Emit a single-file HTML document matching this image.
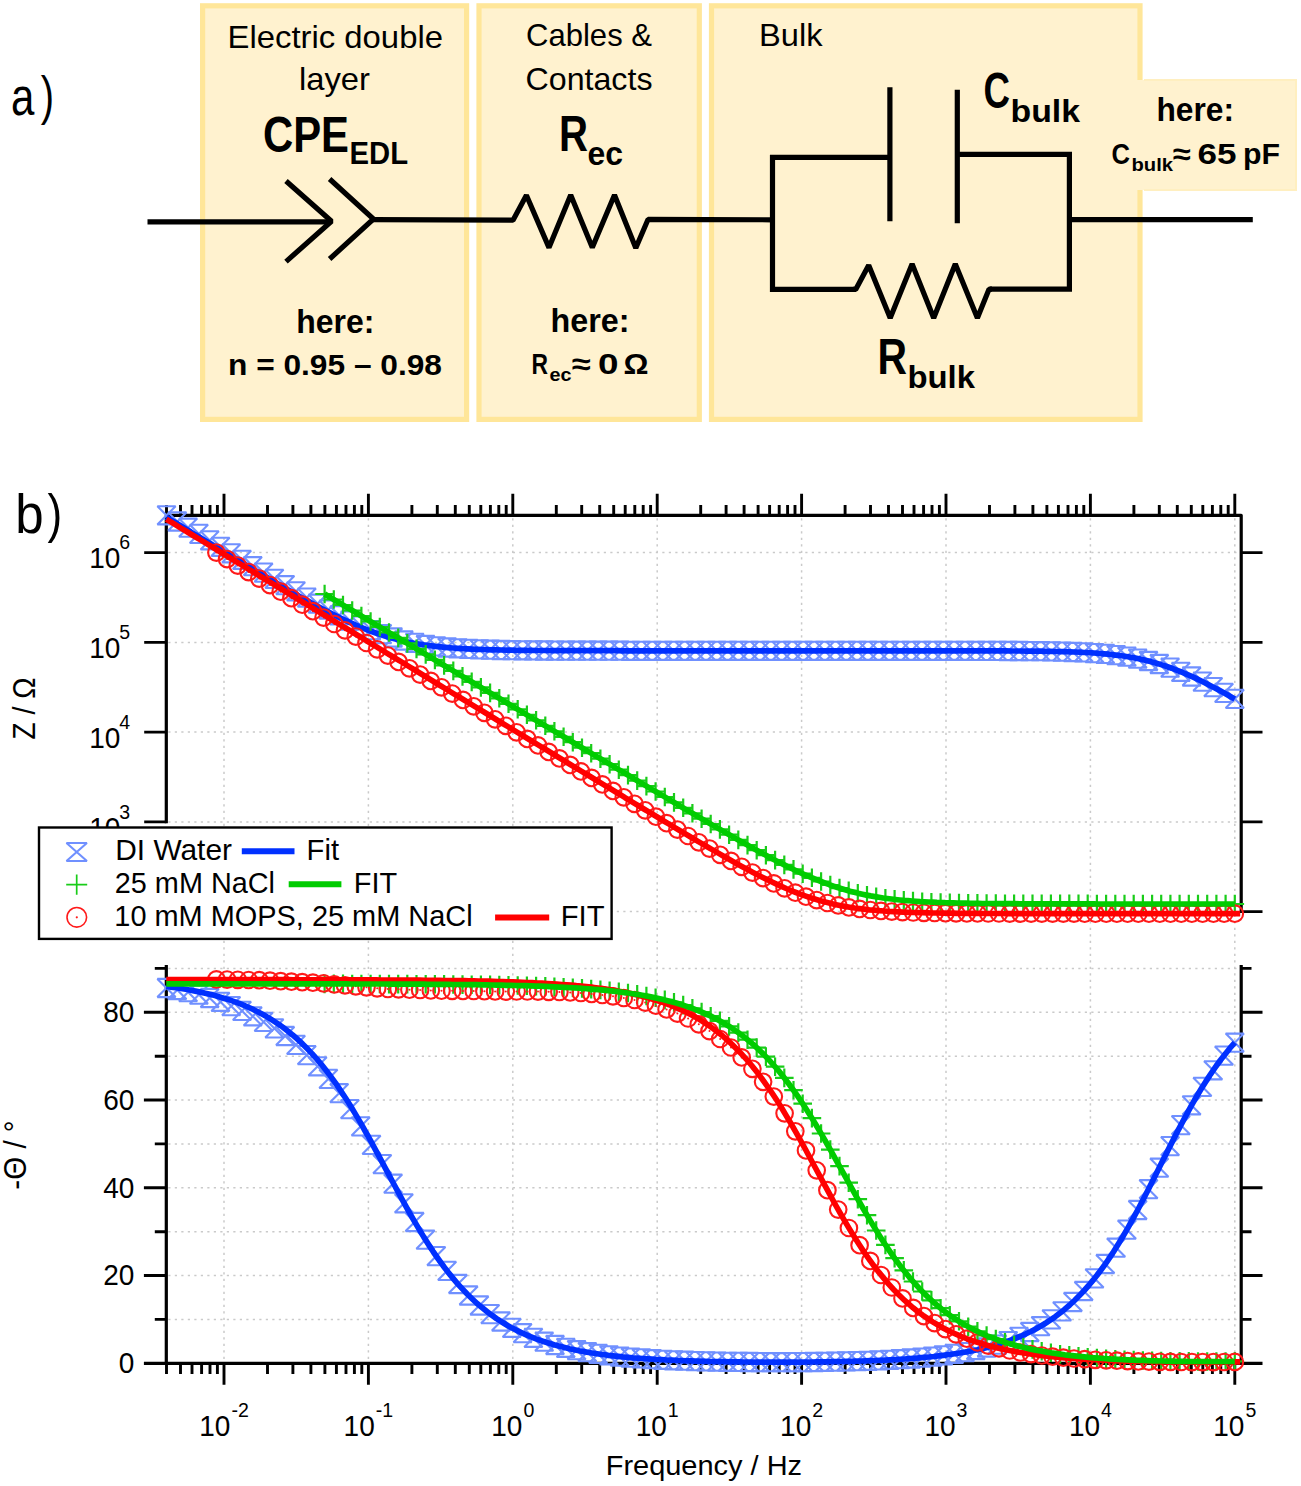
<!DOCTYPE html>
<html lang="en"><head><meta charset="utf-8"><title>Equivalent circuit and impedance spectra</title>
<style>html,body{margin:0;padding:0;background:#fff}svg{display:block}text{font-family:"Liberation Sans",sans-serif;fill:#000}</style>
</head><body>
<svg width="1301" height="1486" viewBox="0 0 1301 1486">
<rect width="1301" height="1486" fill="#fff"/>
<rect x="202.6" y="5.8" width="264" height="413.6" fill="#FFF2CF" stroke="#FFE699" stroke-width="5.2"/>
<rect x="479" y="5.8" width="220.3" height="413.6" fill="#FFF2CF" stroke="#FFE699" stroke-width="5.2"/>
<rect x="711.5" y="5.8" width="428.5" height="413.6" fill="#FFF2CF" stroke="#FFE699" stroke-width="5.2"/>
<rect x="1100" y="80" width="196" height="110" fill="#FFF2CF"/>
<path d="M1144,80 H1296 V190 H1144" fill="none" stroke="#FFEFC0" stroke-width="2"/>
<g fill="none" stroke="#000" stroke-width="5.2" stroke-linejoin="bevel" stroke-linecap="butt">
<path d="M147.5,221.8 H331"/>
<path d="M286,181 L331.5,221.3 L286,261.6"/>
<path d="M329.6,179 L373.5,219 L329.6,259" stroke-linejoin="miter"/>
<path d="M373,219.6 L513,220.2 L526.4,195.3 L549,247.6 L570.7,195 L592.3,247.6 L614.5,195 L635.8,248 L648,219.4 L772.5,219.8"/>
<path d="M889.9,157.4 H772.5 V289.4 H856" stroke-linejoin="miter"/>
<path d="M853,289.4 H855.7 L868.7,265.2 L890.2,318 L912.1,264 L933.7,318 L955.3,264 L977.4,318 L989,289.2 H992"/>
<path d="M990,289.2 H1069.4 V154.4 H957.3" stroke-linejoin="miter"/>
<path d="M889.9,87.3 V221.3 M957.3,89.8 V223.3"/>
<path d="M1069.4,219.6 H1252.8"/>
</g>
<text x="11" y="115" font-size="54" textLength="23.4" lengthAdjust="spacingAndGlyphs">a</text>
<text x="40.8" y="113.6" font-size="54" textLength="13.3" lengthAdjust="spacingAndGlyphs">)</text>
<text x="15.2" y="532.7" font-size="55" textLength="28.4" lengthAdjust="spacingAndGlyphs">b</text>
<text x="47.6" y="531.5" font-size="53" textLength="14.7" lengthAdjust="spacingAndGlyphs">)</text>
<text x="227.5" y="47.9" font-size="30.9" textLength="215.5" lengthAdjust="spacingAndGlyphs">Electric double</text>
<text x="299" y="90.1" font-size="30.9" textLength="71" lengthAdjust="spacingAndGlyphs">layer</text>
<text x="263" y="152" font-size="50" textLength="86" lengthAdjust="spacingAndGlyphs" font-weight="bold">CPE</text>
<text x="349.5" y="164.1" font-size="32" textLength="58.5" lengthAdjust="spacingAndGlyphs" font-weight="bold">EDL</text>
<text x="296.3" y="332.9" font-size="33.5" textLength="78.2" lengthAdjust="spacingAndGlyphs" font-weight="bold">here:</text>
<text x="228" y="374.6" font-size="29" textLength="214" lengthAdjust="spacingAndGlyphs" font-weight="bold">n = 0.95 – 0.98</text>
<text x="526" y="46.2" font-size="30.9" textLength="126" lengthAdjust="spacingAndGlyphs">Cables &amp;</text>
<text x="525.5" y="89.8" font-size="30.9" textLength="127" lengthAdjust="spacingAndGlyphs">Contacts</text>
<text x="559" y="150.5" font-size="50" textLength="29" lengthAdjust="spacingAndGlyphs" font-weight="bold">R</text>
<text x="587.5" y="165" font-size="32.5" textLength="35.5" lengthAdjust="spacingAndGlyphs" font-weight="bold">ec</text>
<text x="550.5" y="332" font-size="33.5" textLength="79" lengthAdjust="spacingAndGlyphs" font-weight="bold">here:</text>
<text x="531.5" y="374.3" font-size="29" textLength="16.5" lengthAdjust="spacingAndGlyphs" font-weight="bold">R</text>
<text x="549.5" y="381.2" font-size="18.5" textLength="22" lengthAdjust="spacingAndGlyphs" font-weight="bold">ec</text>
<text x="572" y="374.3" font-size="29" textLength="19" lengthAdjust="spacingAndGlyphs" font-weight="bold">≈</text>
<text x="598" y="374.3" font-size="29" textLength="20.5" lengthAdjust="spacingAndGlyphs" font-weight="bold">0</text>
<text x="623.5" y="374.3" font-size="29" textLength="25" lengthAdjust="spacingAndGlyphs" font-weight="bold">Ω</text>
<text x="759" y="46.2" font-size="30.9" textLength="63.5" lengthAdjust="spacingAndGlyphs">Bulk</text>
<text x="983.5" y="108.2" font-size="50" textLength="26.5" lengthAdjust="spacingAndGlyphs" font-weight="bold">C</text>
<text x="1010.5" y="121.7" font-size="32" textLength="69.5" lengthAdjust="spacingAndGlyphs" font-weight="bold">bulk</text>
<text x="1156.5" y="121" font-size="33.5" textLength="77.5" lengthAdjust="spacingAndGlyphs" font-weight="bold">here:</text>
<text x="1111.5" y="163.5" font-size="29" textLength="18.5" lengthAdjust="spacingAndGlyphs" font-weight="bold">C</text>
<text x="1131.5" y="170.9" font-size="18.5" textLength="41.5" lengthAdjust="spacingAndGlyphs" font-weight="bold">bulk</text>
<text x="1173" y="163.5" font-size="29" textLength="18" lengthAdjust="spacingAndGlyphs" font-weight="bold">≈</text>
<text x="1197.5" y="163.5" font-size="29" textLength="39" lengthAdjust="spacingAndGlyphs" font-weight="bold">65</text>
<text x="1243" y="163.5" font-size="29" textLength="37" lengthAdjust="spacingAndGlyphs" font-weight="bold">pF</text>
<text x="877.5" y="374.3" font-size="50" textLength="29.5" lengthAdjust="spacingAndGlyphs" font-weight="bold">R</text>
<text x="907.5" y="388.2" font-size="32" textLength="67.5" lengthAdjust="spacingAndGlyphs" font-weight="bold">bulk</text>
<g fill="none" stroke="#cacaca" stroke-width="1.5" stroke-dasharray="2.2 4.3">
<path d="M224,518.3 V1363.3"/>
<path d="M368.4,518.3 V1363.3"/>
<path d="M512.8,518.3 V1363.3"/>
<path d="M657.2,518.3 V1363.3"/>
<path d="M801.6,518.3 V1363.3"/>
<path d="M946,518.3 V1363.3"/>
<path d="M1090.4,518.3 V1363.3"/>
<path d="M1234.8,518.3 V1363.3"/>
<path d="M168.3,552.6 H1239.2"/>
<path d="M168.3,642.4 H1239.2"/>
<path d="M168.3,732.1 H1239.2"/>
<path d="M168.3,821.9 H1239.2"/>
<path d="M168.3,911.6 H1239.2"/>
<path d="M168.3,1319.4 H1239.2"/>
<path d="M168.3,1275.5 H1239.2"/>
<path d="M168.3,1231.7 H1239.2"/>
<path d="M168.3,1187.8 H1239.2"/>
<path d="M168.3,1143.9 H1239.2"/>
<path d="M168.3,1100 H1239.2"/>
<path d="M168.3,1056.2 H1239.2"/>
<path d="M168.3,1012.3 H1239.2"/>
<path d="M168.3,968.4 H1239.2"/>
</g>
<g fill="none" stroke="#000" stroke-linecap="butt">
<path d="M166.3,823.2 V515.3 H1241.2 V913" stroke-width="3.2" stroke-linejoin="round"/>
<path d="M166.3,1363.3 V965 M1241.2,1363.3 V965" stroke-width="3.2"/>
<path d="M143.9,1363.3 H1262.5" stroke-width="3.2"/>
<path d="M166.5,515.3 V505 M166.5,1363.3 V1374.1 M180.5,515.3 V505 M180.5,1363.3 V1374.1 M192,515.3 V505 M192,1363.3 V1374.1 M201.6,515.3 V505 M201.6,1363.3 V1374.1 M210,515.3 V505 M210,1363.3 V1374.1 M217.4,515.3 V505 M217.4,1363.3 V1374.1 M224,515.3 V493.8 M224,1363.3 V1384.8 M267.5,515.3 V505 M267.5,1363.3 V1374.1 M292.9,515.3 V505 M292.9,1363.3 V1374.1 M310.9,515.3 V505 M310.9,1363.3 V1374.1 M324.9,515.3 V505 M324.9,1363.3 V1374.1 M336.4,515.3 V505 M336.4,1363.3 V1374.1 M346,515.3 V505 M346,1363.3 V1374.1 M354.4,515.3 V505 M354.4,1363.3 V1374.1 M361.8,515.3 V505 M361.8,1363.3 V1374.1 M368.4,515.3 V493.8 M368.4,1363.3 V1384.8 M411.9,515.3 V505 M411.9,1363.3 V1374.1 M437.3,515.3 V505 M437.3,1363.3 V1374.1 M455.3,515.3 V505 M455.3,1363.3 V1374.1 M469.3,515.3 V505 M469.3,1363.3 V1374.1 M480.8,515.3 V505 M480.8,1363.3 V1374.1 M490.4,515.3 V505 M490.4,1363.3 V1374.1 M498.8,515.3 V505 M498.8,1363.3 V1374.1 M506.2,515.3 V505 M506.2,1363.3 V1374.1 M512.8,515.3 V493.8 M512.8,1363.3 V1384.8 M556.3,515.3 V505 M556.3,1363.3 V1374.1 M581.7,515.3 V505 M581.7,1363.3 V1374.1 M599.7,515.3 V505 M599.7,1363.3 V1374.1 M613.7,515.3 V505 M613.7,1363.3 V1374.1 M625.2,515.3 V505 M625.2,1363.3 V1374.1 M634.8,515.3 V505 M634.8,1363.3 V1374.1 M643.2,515.3 V505 M643.2,1363.3 V1374.1 M650.6,515.3 V505 M650.6,1363.3 V1374.1 M657.2,515.3 V493.8 M657.2,1363.3 V1384.8 M700.7,515.3 V505 M700.7,1363.3 V1374.1 M726.1,515.3 V505 M726.1,1363.3 V1374.1 M744.1,515.3 V505 M744.1,1363.3 V1374.1 M758.1,515.3 V505 M758.1,1363.3 V1374.1 M769.6,515.3 V505 M769.6,1363.3 V1374.1 M779.2,515.3 V505 M779.2,1363.3 V1374.1 M787.6,515.3 V505 M787.6,1363.3 V1374.1 M795,515.3 V505 M795,1363.3 V1374.1 M801.6,515.3 V493.8 M801.6,1363.3 V1384.8 M845.1,515.3 V505 M845.1,1363.3 V1374.1 M870.5,515.3 V505 M870.5,1363.3 V1374.1 M888.5,515.3 V505 M888.5,1363.3 V1374.1 M902.5,515.3 V505 M902.5,1363.3 V1374.1 M914,515.3 V505 M914,1363.3 V1374.1 M923.6,515.3 V505 M923.6,1363.3 V1374.1 M932,515.3 V505 M932,1363.3 V1374.1 M939.4,515.3 V505 M939.4,1363.3 V1374.1 M946,515.3 V493.8 M946,1363.3 V1384.8 M989.5,515.3 V505 M989.5,1363.3 V1374.1 M1014.9,515.3 V505 M1014.9,1363.3 V1374.1 M1032.9,515.3 V505 M1032.9,1363.3 V1374.1 M1046.9,515.3 V505 M1046.9,1363.3 V1374.1 M1058.4,515.3 V505 M1058.4,1363.3 V1374.1 M1068,515.3 V505 M1068,1363.3 V1374.1 M1076.4,515.3 V505 M1076.4,1363.3 V1374.1 M1083.8,515.3 V505 M1083.8,1363.3 V1374.1 M1090.4,515.3 V493.8 M1090.4,1363.3 V1384.8 M1133.9,515.3 V505 M1133.9,1363.3 V1374.1 M1159.3,515.3 V505 M1159.3,1363.3 V1374.1 M1177.3,515.3 V505 M1177.3,1363.3 V1374.1 M1191.3,515.3 V505 M1191.3,1363.3 V1374.1 M1202.8,515.3 V505 M1202.8,1363.3 V1374.1 M1212.4,515.3 V505 M1212.4,1363.3 V1374.1 M1220.8,515.3 V505 M1220.8,1363.3 V1374.1 M1228.2,515.3 V505 M1228.2,1363.3 V1374.1 M1234.8,515.3 V493.8 M1234.8,1363.3 V1384.8 M144.2,552.6 H166.3 M1241.2,552.6 H1262.5 M144.2,642.4 H166.3 M1241.2,642.4 H1262.5 M144.2,732.1 H166.3 M1241.2,732.1 H1262.5 M144.2,821.9 H166.3 M1241.2,821.9 H1262.5 M144.2,911.6 H166.3 M1241.2,911.6 H1262.5 M154.8,1319.4 H166.3 M1241.2,1319.4 H1251.5 M143.9,1275.5 H166.3 M1241.2,1275.5 H1262.5 M154.8,1231.7 H166.3 M1241.2,1231.7 H1251.5 M143.9,1187.8 H166.3 M1241.2,1187.8 H1262.5 M154.8,1143.9 H166.3 M1241.2,1143.9 H1251.5 M143.9,1100 H166.3 M1241.2,1100 H1262.5 M154.8,1056.2 H166.3 M1241.2,1056.2 H1251.5 M143.9,1012.3 H166.3 M1241.2,1012.3 H1262.5 M154.8,968.4 H166.3 M1241.2,968.4 H1251.5" stroke-width="2.9"/>
</g>
<defs>
<path id="mb" d="M-9.1,-9.1 H9.1 L-9.1,9.1 H9.1 Z" fill="none" stroke="#7090ff" stroke-width="2.1" stroke-linejoin="bevel"/>
<path id="mg" d="M-9.3,0 H9.3 M0,-9.3 V9.3" fill="none" stroke="#19cc19" stroke-width="2.2"/>
<g id="mr"><circle r="8.3" fill="none" stroke="#ff1a1a" stroke-width="2.1"/><circle r="1" fill="#ff1a1a"/></g>
</defs>
<use href="#mb" x="166.5" y="515.3"/>
<use href="#mb" x="177.3" y="521.5"/>
<use href="#mb" x="188.1" y="527.7"/>
<use href="#mb" x="198.9" y="533.9"/>
<use href="#mb" x="209.7" y="540.3"/>
<use href="#mb" x="220.5" y="546.8"/>
<use href="#mb" x="231.2" y="553.3"/>
<use href="#mb" x="242" y="559.8"/>
<use href="#mb" x="252.8" y="566.2"/>
<use href="#mb" x="263.6" y="572.6"/>
<use href="#mb" x="274.4" y="578.9"/>
<use href="#mb" x="285.2" y="585.2"/>
<use href="#mb" x="296" y="591.3"/>
<use href="#mb" x="306.8" y="597.6"/>
<use href="#mb" x="317.6" y="603.7"/>
<use href="#mb" x="328.4" y="609.6"/>
<use href="#mb" x="339.2" y="615.3"/>
<use href="#mb" x="349.9" y="620.6"/>
<use href="#mb" x="360.7" y="625.6"/>
<use href="#mb" x="371.5" y="630.1"/>
<use href="#mb" x="382.3" y="634.1"/>
<use href="#mb" x="393.1" y="637.5"/>
<use href="#mb" x="403.9" y="640.5"/>
<use href="#mb" x="414.7" y="642.9"/>
<use href="#mb" x="425.5" y="645"/>
<use href="#mb" x="436.3" y="646.4"/>
<use href="#mb" x="447.1" y="647.5"/>
<use href="#mb" x="457.9" y="648.3"/>
<use href="#mb" x="468.6" y="648.9"/>
<use href="#mb" x="479.4" y="649.4"/>
<use href="#mb" x="490.2" y="649.7"/>
<use href="#mb" x="501" y="650"/>
<use href="#mb" x="511.8" y="650.2"/>
<use href="#mb" x="522.6" y="650.3"/>
<use href="#mb" x="533.4" y="650.4"/>
<use href="#mb" x="544.2" y="650.5"/>
<use href="#mb" x="555" y="650.6"/>
<use href="#mb" x="565.8" y="650.6"/>
<use href="#mb" x="576.6" y="650.7"/>
<use href="#mb" x="587.3" y="650.7"/>
<use href="#mb" x="598.1" y="650.7"/>
<use href="#mb" x="608.9" y="650.7"/>
<use href="#mb" x="619.7" y="650.7"/>
<use href="#mb" x="630.5" y="650.8"/>
<use href="#mb" x="641.3" y="650.8"/>
<use href="#mb" x="652.1" y="650.8"/>
<use href="#mb" x="662.9" y="650.8"/>
<use href="#mb" x="673.7" y="650.8"/>
<use href="#mb" x="684.5" y="650.8"/>
<use href="#mb" x="695.3" y="650.8"/>
<use href="#mb" x="706" y="650.8"/>
<use href="#mb" x="716.8" y="650.8"/>
<use href="#mb" x="727.6" y="650.8"/>
<use href="#mb" x="738.4" y="650.8"/>
<use href="#mb" x="749.2" y="650.8"/>
<use href="#mb" x="760" y="650.8"/>
<use href="#mb" x="770.8" y="650.8"/>
<use href="#mb" x="781.6" y="650.8"/>
<use href="#mb" x="792.4" y="650.8"/>
<use href="#mb" x="803.2" y="650.8"/>
<use href="#mb" x="814" y="650.8"/>
<use href="#mb" x="824.7" y="650.8"/>
<use href="#mb" x="835.5" y="650.8"/>
<use href="#mb" x="846.3" y="650.8"/>
<use href="#mb" x="857.1" y="650.8"/>
<use href="#mb" x="867.9" y="650.8"/>
<use href="#mb" x="878.7" y="650.8"/>
<use href="#mb" x="889.5" y="650.8"/>
<use href="#mb" x="900.3" y="650.8"/>
<use href="#mb" x="911.1" y="650.8"/>
<use href="#mb" x="921.9" y="650.8"/>
<use href="#mb" x="932.7" y="650.8"/>
<use href="#mb" x="943.4" y="650.8"/>
<use href="#mb" x="954.2" y="650.8"/>
<use href="#mb" x="965" y="650.8"/>
<use href="#mb" x="975.8" y="650.9"/>
<use href="#mb" x="986.6" y="650.9"/>
<use href="#mb" x="997.4" y="650.9"/>
<use href="#mb" x="1008.2" y="651"/>
<use href="#mb" x="1019" y="651"/>
<use href="#mb" x="1029.8" y="651.1"/>
<use href="#mb" x="1040.6" y="651.2"/>
<use href="#mb" x="1051.4" y="651.4"/>
<use href="#mb" x="1062.1" y="651.6"/>
<use href="#mb" x="1072.9" y="652"/>
<use href="#mb" x="1083.7" y="652.4"/>
<use href="#mb" x="1094.5" y="653.1"/>
<use href="#mb" x="1105.3" y="653.9"/>
<use href="#mb" x="1116.1" y="655.1"/>
<use href="#mb" x="1126.9" y="656.6"/>
<use href="#mb" x="1137.7" y="658.6"/>
<use href="#mb" x="1148.5" y="661"/>
<use href="#mb" x="1159.3" y="664"/>
<use href="#mb" x="1170.1" y="667.6"/>
<use href="#mb" x="1180.8" y="671.8"/>
<use href="#mb" x="1191.6" y="676.5"/>
<use href="#mb" x="1202.4" y="681.6"/>
<use href="#mb" x="1213.2" y="687.1"/>
<use href="#mb" x="1224" y="692.9"/>
<use href="#mb" x="1234.8" y="698.9"/>
<polyline points="166.3,517.2 171.2,520.1 176,523 180.9,526 185.7,528.9 190.6,531.8 195.4,534.8 200.3,537.7 205.2,540.6 210,543.5 214.9,546.5 219.7,549.4 224.6,552.3 229.4,555.2 234.3,558.1 239.2,561 244,563.9 248.9,566.8 253.7,569.7 258.6,572.6 263.4,575.5 268.3,578.3 273.1,581.2 278,584 282.9,586.8 287.7,589.6 292.6,592.4 297.4,595.2 302.3,597.9 307.1,600.6 312,603.3 316.9,605.9 321.7,608.5 326.6,611.1 331.4,613.5 336.3,616 341.1,618.4 346,620.7 350.9,622.9 355.7,625.1 360.6,627.1 365.4,629.1 370.3,631 375.1,632.7 380,634.4 384.9,636 389.7,637.4 394.6,638.8 399.4,640 404.3,641.2 409.1,642.2 414,643.2 418.9,644 423.7,644.8 428.6,645.5 433.4,646.1 438.3,646.7 443.1,647.2 448,647.6 452.9,648 457.7,648.3 462.6,648.6 467.4,648.9 472.3,649.1 477.1,649.3 482,649.5 486.9,649.7 491.7,649.8 496.6,649.9 501.4,650 506.3,650.1 511.1,650.2 516,650.3 520.8,650.3 525.7,650.4 530.6,650.4 535.4,650.5 540.3,650.5 545.1,650.5 550,650.6 554.8,650.6 559.7,650.6 564.6,650.6 569.4,650.6 574.3,650.7 579.1,650.7 584,650.7 588.8,650.7 593.7,650.7 598.6,650.7 603.4,650.7 608.3,650.7 613.1,650.7 618,650.7 622.8,650.8 627.7,650.8 632.6,650.8 637.4,650.8 642.3,650.8 647.1,650.8 652,650.8 656.8,650.8 661.7,650.8 666.6,650.8 671.4,650.8 676.3,650.8 681.1,650.8 686,650.8 690.8,650.8 695.7,650.8 700.5,650.8 705.4,650.8 710.3,650.8 715.1,650.8 720,650.8 724.8,650.8 729.7,650.8 734.5,650.8 739.4,650.8 744.3,650.8 749.1,650.8 754,650.8 758.8,650.8 763.7,650.8 768.5,650.8 773.4,650.8 778.3,650.8 783.1,650.8 788,650.8 792.8,650.8 797.7,650.8 802.5,650.8 807.4,650.8 812.3,650.8 817.1,650.8 822,650.8 826.8,650.8 831.7,650.8 836.5,650.8 841.4,650.8 846.3,650.8 851.1,650.8 856,650.8 860.8,650.8 865.7,650.8 870.5,650.8 875.4,650.8 880.3,650.8 885.1,650.8 890,650.8 894.8,650.8 899.7,650.8 904.5,650.8 909.4,650.8 914.3,650.8 919.1,650.8 924,650.8 928.8,650.8 933.7,650.8 938.5,650.8 943.4,650.8 948.2,650.8 953.1,650.8 958,650.8 962.8,650.8 967.7,650.8 972.5,650.9 977.4,650.9 982.2,650.9 987.1,650.9 992,650.9 996.8,650.9 1001.7,650.9 1006.5,650.9 1011.4,651 1016.2,651 1021.1,651 1026,651.1 1030.8,651.1 1035.7,651.2 1040.5,651.2 1045.4,651.3 1050.2,651.4 1055.1,651.5 1060,651.6 1064.8,651.7 1069.7,651.9 1074.5,652 1079.4,652.2 1084.2,652.5 1089.1,652.7 1094,653 1098.8,653.4 1103.7,653.8 1108.5,654.2 1113.4,654.8 1118.2,655.3 1123.1,656 1127.9,656.8 1132.8,657.6 1137.7,658.5 1142.5,659.6 1147.4,660.7 1152.2,662 1157.1,663.4 1161.9,664.9 1166.8,666.5 1171.7,668.2 1176.5,670.1 1181.4,672 1186.2,674.1 1191.1,676.2 1195.9,678.4 1200.8,680.8 1205.7,683.2 1210.5,685.7 1215.4,688.2 1220.2,690.8 1225.1,693.5 1229.9,696.2 1234.8,698.9" fill="none" stroke="#0030ff" stroke-width="5.7" stroke-linejoin="round"/>
<use href="#mg" x="324.6" y="594"/>
<use href="#mg" x="333.8" y="599.5"/>
<use href="#mg" x="343" y="605"/>
<use href="#mg" x="352.2" y="610.5"/>
<use href="#mg" x="361.4" y="616"/>
<use href="#mg" x="370.6" y="621.5"/>
<use href="#mg" x="379.8" y="627"/>
<use href="#mg" x="389" y="632.5"/>
<use href="#mg" x="398.2" y="637.9"/>
<use href="#mg" x="407.3" y="643.4"/>
<use href="#mg" x="416.5" y="648.9"/>
<use href="#mg" x="425.7" y="654.4"/>
<use href="#mg" x="434.9" y="659.9"/>
<use href="#mg" x="444.1" y="665.4"/>
<use href="#mg" x="453.3" y="670.9"/>
<use href="#mg" x="462.5" y="676.4"/>
<use href="#mg" x="471.7" y="681.9"/>
<use href="#mg" x="480.9" y="687.4"/>
<use href="#mg" x="490.1" y="692.9"/>
<use href="#mg" x="499.3" y="698.3"/>
<use href="#mg" x="508.5" y="703.8"/>
<use href="#mg" x="517.7" y="709.3"/>
<use href="#mg" x="526.9" y="714.8"/>
<use href="#mg" x="536.1" y="720.3"/>
<use href="#mg" x="545.3" y="725.8"/>
<use href="#mg" x="554.4" y="731.3"/>
<use href="#mg" x="563.6" y="736.8"/>
<use href="#mg" x="572.8" y="742.2"/>
<use href="#mg" x="582" y="747.7"/>
<use href="#mg" x="591.2" y="753.2"/>
<use href="#mg" x="600.4" y="758.7"/>
<use href="#mg" x="609.6" y="764.2"/>
<use href="#mg" x="618.8" y="769.7"/>
<use href="#mg" x="628" y="775.1"/>
<use href="#mg" x="637.2" y="780.6"/>
<use href="#mg" x="646.4" y="786.1"/>
<use href="#mg" x="655.6" y="791.5"/>
<use href="#mg" x="664.8" y="797"/>
<use href="#mg" x="674" y="802.4"/>
<use href="#mg" x="683.2" y="807.8"/>
<use href="#mg" x="692.4" y="813.3"/>
<use href="#mg" x="701.6" y="818.7"/>
<use href="#mg" x="710.7" y="824"/>
<use href="#mg" x="719.9" y="829.4"/>
<use href="#mg" x="729.1" y="834.7"/>
<use href="#mg" x="738.3" y="839.9"/>
<use href="#mg" x="747.5" y="845.1"/>
<use href="#mg" x="756.7" y="850.2"/>
<use href="#mg" x="765.9" y="855.2"/>
<use href="#mg" x="775.1" y="860.1"/>
<use href="#mg" x="784.3" y="864.9"/>
<use href="#mg" x="793.5" y="869.4"/>
<use href="#mg" x="802.7" y="873.7"/>
<use href="#mg" x="811.9" y="877.8"/>
<use href="#mg" x="821.1" y="881.5"/>
<use href="#mg" x="830.3" y="885"/>
<use href="#mg" x="839.5" y="888.1"/>
<use href="#mg" x="848.7" y="890.8"/>
<use href="#mg" x="857.8" y="893.2"/>
<use href="#mg" x="867" y="895.2"/>
<use href="#mg" x="876.2" y="896.9"/>
<use href="#mg" x="885.4" y="898.3"/>
<use href="#mg" x="894.6" y="899.4"/>
<use href="#mg" x="903.8" y="900.4"/>
<use href="#mg" x="913" y="901.1"/>
<use href="#mg" x="922.2" y="901.7"/>
<use href="#mg" x="931.4" y="902.2"/>
<use href="#mg" x="940.6" y="902.5"/>
<use href="#mg" x="949.8" y="902.8"/>
<use href="#mg" x="959" y="903.1"/>
<use href="#mg" x="968.2" y="903.2"/>
<use href="#mg" x="977.4" y="903.4"/>
<use href="#mg" x="986.6" y="903.5"/>
<use href="#mg" x="995.8" y="903.6"/>
<use href="#mg" x="1005" y="903.7"/>
<use href="#mg" x="1014.1" y="903.7"/>
<use href="#mg" x="1023.3" y="903.8"/>
<use href="#mg" x="1032.5" y="903.8"/>
<use href="#mg" x="1041.7" y="903.9"/>
<use href="#mg" x="1050.9" y="903.9"/>
<use href="#mg" x="1060.1" y="903.9"/>
<use href="#mg" x="1069.3" y="903.9"/>
<use href="#mg" x="1078.5" y="903.9"/>
<use href="#mg" x="1087.7" y="903.9"/>
<use href="#mg" x="1096.9" y="904"/>
<use href="#mg" x="1106.1" y="904"/>
<use href="#mg" x="1115.3" y="904"/>
<use href="#mg" x="1124.5" y="904"/>
<use href="#mg" x="1133.7" y="904"/>
<use href="#mg" x="1142.9" y="904"/>
<use href="#mg" x="1152.1" y="904"/>
<use href="#mg" x="1161.2" y="904"/>
<use href="#mg" x="1170.4" y="904"/>
<use href="#mg" x="1179.6" y="904"/>
<use href="#mg" x="1188.8" y="904"/>
<use href="#mg" x="1198" y="904"/>
<use href="#mg" x="1207.2" y="904"/>
<use href="#mg" x="1216.4" y="904"/>
<use href="#mg" x="1225.6" y="904"/>
<use href="#mg" x="1234.8" y="904"/>
<use href="#mr" x="216.4" y="552.6"/>
<use href="#mr" x="227.1" y="559.1"/>
<use href="#mr" x="237.8" y="565.6"/>
<use href="#mr" x="248.6" y="572.1"/>
<use href="#mr" x="259.3" y="578.6"/>
<use href="#mr" x="270" y="585.1"/>
<use href="#mr" x="280.7" y="591.7"/>
<use href="#mr" x="291.4" y="598.2"/>
<use href="#mr" x="302.2" y="604.7"/>
<use href="#mr" x="312.9" y="611.2"/>
<use href="#mr" x="323.6" y="617.6"/>
<use href="#mr" x="334.3" y="624"/>
<use href="#mr" x="345" y="630.3"/>
<use href="#mr" x="355.8" y="636.6"/>
<use href="#mr" x="366.5" y="643"/>
<use href="#mr" x="377.2" y="649.3"/>
<use href="#mr" x="387.9" y="655.6"/>
<use href="#mr" x="398.6" y="661.9"/>
<use href="#mr" x="409.4" y="668.3"/>
<use href="#mr" x="420.1" y="674.6"/>
<use href="#mr" x="430.8" y="680.9"/>
<use href="#mr" x="441.5" y="687.3"/>
<use href="#mr" x="452.2" y="693.6"/>
<use href="#mr" x="463" y="699.9"/>
<use href="#mr" x="473.7" y="706.3"/>
<use href="#mr" x="484.4" y="712.8"/>
<use href="#mr" x="495.1" y="719.3"/>
<use href="#mr" x="505.8" y="725.8"/>
<use href="#mr" x="516.6" y="732.3"/>
<use href="#mr" x="527.3" y="738.9"/>
<use href="#mr" x="538" y="745.4"/>
<use href="#mr" x="548.7" y="751.9"/>
<use href="#mr" x="559.4" y="758.4"/>
<use href="#mr" x="570.2" y="764.9"/>
<use href="#mr" x="580.9" y="771.4"/>
<use href="#mr" x="591.6" y="777.9"/>
<use href="#mr" x="602.3" y="784.4"/>
<use href="#mr" x="613" y="790.9"/>
<use href="#mr" x="623.8" y="797.3"/>
<use href="#mr" x="634.5" y="803.8"/>
<use href="#mr" x="645.2" y="810.3"/>
<use href="#mr" x="655.9" y="816.7"/>
<use href="#mr" x="666.6" y="823.2"/>
<use href="#mr" x="677.4" y="829.6"/>
<use href="#mr" x="688.1" y="836"/>
<use href="#mr" x="698.8" y="842.3"/>
<use href="#mr" x="709.5" y="848.6"/>
<use href="#mr" x="720.2" y="854.8"/>
<use href="#mr" x="731" y="860.9"/>
<use href="#mr" x="741.7" y="866.8"/>
<use href="#mr" x="752.4" y="872.6"/>
<use href="#mr" x="763.1" y="878.1"/>
<use href="#mr" x="773.8" y="883.4"/>
<use href="#mr" x="784.6" y="888.3"/>
<use href="#mr" x="795.3" y="892.7"/>
<use href="#mr" x="806" y="896.7"/>
<use href="#mr" x="816.7" y="900.1"/>
<use href="#mr" x="827.4" y="903"/>
<use href="#mr" x="838.2" y="905.4"/>
<use href="#mr" x="848.9" y="907.4"/>
<use href="#mr" x="859.6" y="908.9"/>
<use href="#mr" x="870.3" y="910"/>
<use href="#mr" x="881" y="910.9"/>
<use href="#mr" x="891.8" y="911.6"/>
<use href="#mr" x="902.5" y="912.1"/>
<use href="#mr" x="913.2" y="912.5"/>
<use href="#mr" x="923.9" y="912.8"/>
<use href="#mr" x="934.6" y="913"/>
<use href="#mr" x="945.4" y="913.2"/>
<use href="#mr" x="956.1" y="913.3"/>
<use href="#mr" x="966.8" y="913.4"/>
<use href="#mr" x="977.5" y="913.4"/>
<use href="#mr" x="988.2" y="913.5"/>
<use href="#mr" x="999" y="913.5"/>
<use href="#mr" x="1009.7" y="913.6"/>
<use href="#mr" x="1020.4" y="913.6"/>
<use href="#mr" x="1031.1" y="913.6"/>
<use href="#mr" x="1041.8" y="913.6"/>
<use href="#mr" x="1052.6" y="913.6"/>
<use href="#mr" x="1063.3" y="913.6"/>
<use href="#mr" x="1074" y="913.6"/>
<use href="#mr" x="1084.7" y="913.7"/>
<use href="#mr" x="1095.4" y="913.7"/>
<use href="#mr" x="1106.2" y="913.7"/>
<use href="#mr" x="1116.9" y="913.7"/>
<use href="#mr" x="1127.6" y="913.7"/>
<use href="#mr" x="1138.3" y="913.7"/>
<use href="#mr" x="1149" y="913.7"/>
<use href="#mr" x="1159.8" y="913.7"/>
<use href="#mr" x="1170.5" y="913.7"/>
<use href="#mr" x="1181.2" y="913.7"/>
<use href="#mr" x="1191.9" y="913.7"/>
<use href="#mr" x="1202.6" y="913.7"/>
<use href="#mr" x="1213.4" y="913.7"/>
<use href="#mr" x="1224.1" y="913.7"/>
<use href="#mr" x="1234.8" y="913.7"/>
<polyline points="166.3,519.2 171.2,522.1 176.1,525.1 180.9,528.1 185.8,531 190.7,534 195.6,537 200.5,539.9 205.4,542.9 210.2,545.8 215.1,548.8 220,551.8 224.9,554.7 229.8,557.7 234.6,560.7 239.5,563.6 244.4,566.6 249.3,569.6 254.2,572.5 259,575.5 263.9,578.5 268.8,581.4 273.7,584.4 278.6,587.3 283.5,590.3 288.3,593.3 293.2,596.2 298.1,599.2 303,602.2 307.9,605.1 312.7,608.1 317.6,611.1 322.5,614 327.4,617 332.3,620 337.1,622.9 342,625.9 346.9,628.8 351.8,631.8 356.7,634.8 361.6,637.7 366.4,640.7 371.3,643.7 376.2,646.6 381.1,649.6 386,652.6 390.8,655.5 395.7,658.5 400.6,661.4 405.5,664.4 410.4,667.4 415.2,670.3 420.1,673.3 425,676.3 429.9,679.2 434.8,682.2 439.7,685.2 444.5,688.1 449.4,691.1 454.3,694.1 459.2,697 464.1,700 468.9,702.9 473.8,705.9 478.7,708.9 483.6,711.8 488.5,714.8 493.4,717.8 498.2,720.7 503.1,723.7 508,726.6 512.9,729.6 517.8,732.6 522.6,735.5 527.5,738.5 532.4,741.5 537.3,744.4 542.2,747.4 547,750.3 551.9,753.3 556.8,756.3 561.7,759.2 566.6,762.2 571.5,765.2 576.3,768.1 581.2,771.1 586.1,774 591,777 595.9,780 600.7,782.9 605.6,785.9 610.5,788.8 615.4,791.8 620.3,794.7 625.1,797.7 630,800.6 634.9,803.6 639.8,806.5 644.7,809.5 649.6,812.4 654.4,815.3 659.3,818.3 664.2,821.2 669.1,824.1 674,827.1 678.8,830 683.7,832.9 688.6,835.8 693.5,838.7 698.4,841.6 703.2,844.4 708.1,847.3 713,850.1 717.9,852.9 722.8,855.7 727.7,858.5 732.5,861.3 737.4,864 742.3,866.7 747.2,869.3 752.1,871.9 756.9,874.5 761.8,877 766.7,879.4 771.6,881.8 776.5,884.1 781.4,886.3 786.2,888.5 791.1,890.6 796,892.5 800.9,894.4 805.8,896.1 810.6,897.8 815.5,899.3 820.4,900.8 825.3,902.1 830.2,903.3 835,904.5 839.9,905.5 844.8,906.4 849.7,907.2 854.6,908 859.5,908.6 864.3,909.2 869.2,909.8 874.1,910.2 879,910.7 883.9,911 888.7,911.4 893.6,911.6 898.5,911.9 903.4,912.1 908.3,912.3 913.1,912.5 918,912.6 922.9,912.7 927.8,912.9 932.7,913 937.6,913 942.4,913.1 947.3,913.2 952.2,913.2 957.1,913.3 962,913.3 966.8,913.4 971.7,913.4 976.6,913.4 981.5,913.5 986.4,913.5 991.3,913.5 996.1,913.5 1001,913.5 1005.9,913.6 1010.8,913.6 1015.7,913.6 1020.5,913.6 1025.4,913.6 1030.3,913.6 1035.2,913.6 1040.1,913.6 1044.9,913.6 1049.8,913.6 1054.7,913.6 1059.6,913.6 1064.5,913.6 1069.4,913.6 1074.2,913.6 1079.1,913.7 1084,913.7 1088.9,913.7 1093.8,913.7 1098.6,913.7 1103.5,913.7 1108.4,913.7 1113.3,913.7 1118.2,913.7 1123,913.7 1127.9,913.7 1132.8,913.7 1137.7,913.7 1142.6,913.7 1147.5,913.7 1152.3,913.7 1157.2,913.7 1162.1,913.7 1167,913.7 1171.9,913.7 1176.7,913.7 1181.6,913.7 1186.5,913.7 1191.4,913.7 1196.3,913.7 1201.1,913.7 1206,913.7 1210.9,913.7 1215.8,913.7 1220.7,913.7 1225.6,913.7 1230.4,913.7 1235.3,913.7 1240.2,913.7" fill="none" stroke="#ff0000" stroke-width="5.7" stroke-linejoin="round"/>
<polyline points="324.6,594 328.7,596.5 332.9,599 337,601.4 341.1,603.9 345.3,606.4 349.4,608.8 353.6,611.3 357.7,613.8 361.8,616.3 366,618.7 370.1,621.2 374.2,623.7 378.4,626.1 382.5,628.6 386.7,631.1 390.8,633.6 394.9,636 399.1,638.5 403.2,641 407.3,643.4 411.5,645.9 415.6,648.4 419.8,650.9 423.9,653.3 428,655.8 432.2,658.3 436.3,660.7 440.4,663.2 444.6,665.7 448.7,668.1 452.9,670.6 457,673.1 461.1,675.6 465.3,678 469.4,680.5 473.5,683 477.7,685.4 481.8,687.9 486,690.4 490.1,692.9 494.2,695.3 498.4,697.8 502.5,700.3 506.6,702.7 510.8,705.2 514.9,707.7 519.1,710.1 523.2,712.6 527.3,715.1 531.5,717.6 535.6,720 539.7,722.5 543.9,725 548,727.4 552.2,729.9 556.3,732.4 560.4,734.8 564.6,737.3 568.7,739.8 572.8,742.2 577,744.7 581.1,747.2 585.2,749.7 589.4,752.1 593.5,754.6 597.7,757.1 601.8,759.5 605.9,762 610.1,764.4 614.2,766.9 618.3,769.4 622.5,771.8 626.6,774.3 630.8,776.8 634.9,779.2 639,781.7 643.2,784.1 647.3,786.6 651.4,789.1 655.6,791.5 659.7,794 663.9,796.4 668,798.9 672.1,801.3 676.3,803.8 680.4,806.2 684.5,808.7 688.7,811.1 692.8,813.5 697,816 701.1,818.4 705.2,820.8 709.4,823.2 713.5,825.6 717.6,828 721.8,830.4 725.9,832.8 730.1,835.2 734.2,837.6 738.3,839.9 742.5,842.3 746.6,844.6 750.7,846.9 754.9,849.2 759,851.5 763.2,853.7 767.3,856 771.4,858.2 775.6,860.4 779.7,862.5 783.8,864.6 788,866.7 792.1,868.7 796.2,870.7 800.4,872.7 804.5,874.6 808.7,876.4 812.8,878.2 816.9,879.9 821.1,881.5 825.2,883.1 829.3,884.7 833.5,886.1 837.6,887.5 841.8,888.8 845.9,890 850,891.2 854.2,892.3 858.3,893.3 862.4,894.2 866.6,895.1 870.7,895.9 874.9,896.6 879,897.3 883.1,898 887.3,898.5 891.4,899 895.5,899.5 899.7,900 903.8,900.4 908,900.7 912.1,901 916.2,901.3 920.4,901.6 924.5,901.8 928.6,902 932.8,902.2 936.9,902.4 941.1,902.5 945.2,902.7 949.3,902.8 953.5,902.9 957.6,903 961.7,903.1 965.9,903.2 970,903.3 974.2,903.3 978.3,903.4 982.4,903.5 986.6,903.5 990.7,903.5 994.8,903.6 999,903.6 1003.1,903.7 1007.3,903.7 1011.4,903.7 1015.5,903.7 1019.7,903.8 1023.8,903.8 1027.9,903.8 1032.1,903.8 1036.2,903.8 1040.3,903.8 1044.5,903.9 1048.6,903.9 1052.8,903.9 1056.9,903.9 1061,903.9 1065.2,903.9 1069.3,903.9 1073.4,903.9 1077.6,903.9 1081.7,903.9 1085.9,903.9 1090,903.9 1094.1,903.9 1098.3,904 1102.4,904 1106.5,904 1110.7,904 1114.8,904 1119,904 1123.1,904 1127.2,904 1131.4,904 1135.5,904 1139.6,904 1143.8,904 1147.9,904 1152.1,904 1156.2,904 1160.3,904 1164.5,904 1168.6,904 1172.7,904 1176.9,904 1181,904 1185.2,904 1189.3,904 1193.4,904 1197.6,904 1201.7,904 1205.8,904 1210,904 1214.1,904 1218.3,904 1222.4,904 1226.5,904 1230.7,904 1234.8,904" fill="none" stroke="#00cc00" stroke-width="5.7" stroke-linejoin="round"/>
<use href="#mb" x="166.5" y="988"/>
<use href="#mb" x="177.3" y="990"/>
<use href="#mb" x="188.1" y="992.2"/>
<use href="#mb" x="198.9" y="994.7"/>
<use href="#mb" x="209.7" y="998"/>
<use href="#mb" x="220.5" y="1001.8"/>
<use href="#mb" x="231.2" y="1006.1"/>
<use href="#mb" x="242" y="1010.9"/>
<use href="#mb" x="252.8" y="1016.3"/>
<use href="#mb" x="263.6" y="1021.9"/>
<use href="#mb" x="274.4" y="1028.4"/>
<use href="#mb" x="285.2" y="1036"/>
<use href="#mb" x="296" y="1044.9"/>
<use href="#mb" x="306.8" y="1055.1"/>
<use href="#mb" x="317.6" y="1066.3"/>
<use href="#mb" x="328.4" y="1078.9"/>
<use href="#mb" x="339.2" y="1093.2"/>
<use href="#mb" x="349.9" y="1109.1"/>
<use href="#mb" x="360.7" y="1126.4"/>
<use href="#mb" x="371.5" y="1144.9"/>
<use href="#mb" x="382.3" y="1164.1"/>
<use href="#mb" x="393.1" y="1183.7"/>
<use href="#mb" x="403.9" y="1203.3"/>
<use href="#mb" x="414.7" y="1222"/>
<use href="#mb" x="425.5" y="1239.7"/>
<use href="#mb" x="436.3" y="1256.1"/>
<use href="#mb" x="447.1" y="1270.9"/>
<use href="#mb" x="457.9" y="1284"/>
<use href="#mb" x="468.6" y="1295.5"/>
<use href="#mb" x="479.4" y="1305.5"/>
<use href="#mb" x="490.2" y="1314.1"/>
<use href="#mb" x="501" y="1321.5"/>
<use href="#mb" x="511.8" y="1327.8"/>
<use href="#mb" x="522.6" y="1333.2"/>
<use href="#mb" x="533.4" y="1337.8"/>
<use href="#mb" x="544.2" y="1341.7"/>
<use href="#mb" x="555" y="1345"/>
<use href="#mb" x="565.8" y="1347.8"/>
<use href="#mb" x="576.6" y="1350.2"/>
<use href="#mb" x="587.3" y="1352.2"/>
<use href="#mb" x="598.1" y="1353.9"/>
<use href="#mb" x="608.9" y="1355.3"/>
<use href="#mb" x="619.7" y="1356.6"/>
<use href="#mb" x="630.5" y="1357.6"/>
<use href="#mb" x="641.3" y="1358.4"/>
<use href="#mb" x="652.1" y="1359.2"/>
<use href="#mb" x="662.9" y="1359.8"/>
<use href="#mb" x="673.7" y="1360.3"/>
<use href="#mb" x="684.5" y="1360.7"/>
<use href="#mb" x="695.3" y="1361.1"/>
<use href="#mb" x="706" y="1361.4"/>
<use href="#mb" x="716.8" y="1361.6"/>
<use href="#mb" x="727.6" y="1361.8"/>
<use href="#mb" x="738.4" y="1361.9"/>
<use href="#mb" x="749.2" y="1362"/>
<use href="#mb" x="760" y="1362.1"/>
<use href="#mb" x="770.8" y="1362.2"/>
<use href="#mb" x="781.6" y="1362.2"/>
<use href="#mb" x="792.4" y="1362.1"/>
<use href="#mb" x="803.2" y="1362.1"/>
<use href="#mb" x="814" y="1362"/>
<use href="#mb" x="824.7" y="1361.8"/>
<use href="#mb" x="835.5" y="1361.6"/>
<use href="#mb" x="846.3" y="1361.4"/>
<use href="#mb" x="857.1" y="1361.1"/>
<use href="#mb" x="867.9" y="1360.8"/>
<use href="#mb" x="878.7" y="1360.4"/>
<use href="#mb" x="889.5" y="1359.8"/>
<use href="#mb" x="900.3" y="1359.2"/>
<use href="#mb" x="911.1" y="1358.5"/>
<use href="#mb" x="921.9" y="1357.6"/>
<use href="#mb" x="932.7" y="1356.6"/>
<use href="#mb" x="943.4" y="1355.3"/>
<use href="#mb" x="954.2" y="1353.8"/>
<use href="#mb" x="965" y="1352.1"/>
<use href="#mb" x="975.8" y="1350"/>
<use href="#mb" x="986.6" y="1347.5"/>
<use href="#mb" x="997.4" y="1344.6"/>
<use href="#mb" x="1008.2" y="1341.1"/>
<use href="#mb" x="1019" y="1336.9"/>
<use href="#mb" x="1029.8" y="1332"/>
<use href="#mb" x="1040.6" y="1326.2"/>
<use href="#mb" x="1051.4" y="1319.4"/>
<use href="#mb" x="1062.1" y="1311.4"/>
<use href="#mb" x="1072.9" y="1302"/>
<use href="#mb" x="1083.7" y="1291"/>
<use href="#mb" x="1094.5" y="1278.4"/>
<use href="#mb" x="1105.3" y="1264"/>
<use href="#mb" x="1116.1" y="1247.7"/>
<use href="#mb" x="1126.9" y="1229.6"/>
<use href="#mb" x="1137.7" y="1210"/>
<use href="#mb" x="1148.5" y="1189.2"/>
<use href="#mb" x="1159.3" y="1167.7"/>
<use href="#mb" x="1170.1" y="1146.1"/>
<use href="#mb" x="1180.8" y="1125.1"/>
<use href="#mb" x="1191.6" y="1105.3"/>
<use href="#mb" x="1202.4" y="1086.9"/>
<use href="#mb" x="1213.2" y="1070.3"/>
<use href="#mb" x="1224" y="1055.6"/>
<use href="#mb" x="1234.8" y="1042.7"/>
<polyline points="166.3,986.4 171.2,987.1 176,987.8 180.9,988.5 185.7,989.3 190.6,990.2 195.4,991.1 200.3,992.1 205.2,993.2 210,994.3 214.9,995.6 219.7,996.9 224.6,998.4 229.4,999.9 234.3,1001.6 239.2,1003.4 244,1005.4 248.9,1007.5 253.7,1009.7 258.6,1012.2 263.4,1014.8 268.3,1017.6 273.1,1020.6 278,1023.8 282.9,1027.3 287.7,1031 292.6,1034.9 297.4,1039.2 302.3,1043.7 307.1,1048.5 312,1053.6 316.9,1059.1 321.7,1064.9 326.6,1071 331.4,1077.4 336.3,1084.2 341.1,1091.3 346,1098.8 350.9,1106.6 355.7,1114.6 360.6,1122.9 365.4,1131.5 370.3,1140.2 375.1,1149.2 380,1158.2 384.9,1167.3 389.7,1176.4 394.6,1185.5 399.4,1194.5 404.3,1203.4 409.1,1212.1 414,1220.6 418.9,1228.9 423.7,1236.9 428.6,1244.6 433.4,1252 438.3,1259 443.1,1265.7 448,1272.1 452.9,1278.1 457.7,1283.8 462.6,1289.2 467.4,1294.3 472.3,1299 477.1,1303.5 482,1307.6 486.9,1311.5 491.7,1315.2 496.6,1318.6 501.4,1321.7 506.3,1324.7 511.1,1327.4 516,1330 520.8,1332.4 525.7,1334.6 530.6,1336.7 535.4,1338.6 540.3,1340.4 545.1,1342 550,1343.5 554.8,1345 559.7,1346.3 564.6,1347.5 569.4,1348.7 574.3,1349.7 579.1,1350.7 584,1351.6 588.8,1352.5 593.7,1353.2 598.6,1354 603.4,1354.6 608.3,1355.3 613.1,1355.8 618,1356.4 622.8,1356.9 627.7,1357.3 632.6,1357.8 637.4,1358.1 642.3,1358.5 647.1,1358.9 652,1359.2 656.8,1359.5 661.7,1359.7 666.6,1360 671.4,1360.2 676.3,1360.4 681.1,1360.6 686,1360.8 690.8,1360.9 695.7,1361.1 700.5,1361.2 705.4,1361.4 710.3,1361.5 715.1,1361.6 720,1361.7 724.8,1361.7 729.7,1361.8 734.5,1361.9 739.4,1361.9 744.3,1362 749.1,1362 754,1362.1 758.8,1362.1 763.7,1362.1 768.5,1362.1 773.4,1362.2 778.3,1362.2 783.1,1362.2 788,1362.1 792.8,1362.1 797.7,1362.1 802.5,1362.1 807.4,1362 812.3,1362 817.1,1361.9 822,1361.9 826.8,1361.8 831.7,1361.7 836.5,1361.6 841.4,1361.5 846.3,1361.4 851.1,1361.3 856,1361.2 860.8,1361 865.7,1360.9 870.5,1360.7 875.4,1360.5 880.3,1360.3 885.1,1360.1 890,1359.8 894.8,1359.6 899.7,1359.3 904.5,1359 909.4,1358.6 914.3,1358.3 919.1,1357.9 924,1357.4 928.8,1357 933.7,1356.5 938.5,1355.9 943.4,1355.3 948.2,1354.7 953.1,1354 958,1353.3 962.8,1352.5 967.7,1351.6 972.5,1350.7 977.4,1349.7 982.2,1348.6 987.1,1347.4 992,1346.1 996.8,1344.7 1001.7,1343.2 1006.5,1341.6 1011.4,1339.9 1016.2,1338 1021.1,1336 1026,1333.8 1030.8,1331.5 1035.7,1329 1040.5,1326.2 1045.4,1323.3 1050.2,1320.2 1055.1,1316.8 1060,1313.1 1064.8,1309.2 1069.7,1305 1074.5,1300.5 1079.4,1295.6 1084.2,1290.5 1089.1,1285 1094,1279.1 1098.8,1272.9 1103.7,1266.3 1108.5,1259.3 1113.4,1252 1118.2,1244.2 1123.1,1236.2 1127.9,1227.8 1132.8,1219 1137.7,1210 1142.5,1200.8 1147.4,1191.3 1152.2,1181.7 1157.1,1172 1161.9,1162.3 1166.8,1152.6 1171.7,1142.9 1176.5,1133.4 1181.4,1124.1 1186.2,1115.1 1191.1,1106.2 1195.9,1097.7 1200.8,1089.6 1205.7,1081.8 1210.5,1074.3 1215.4,1067.2 1220.2,1060.5 1225.1,1054.2 1229.9,1048.2 1234.8,1042.7" fill="none" stroke="#0030ff" stroke-width="5.7" stroke-linejoin="round"/>
<use href="#mg" x="324.6" y="983.9"/>
<use href="#mg" x="333.8" y="983.9"/>
<use href="#mg" x="343" y="983.9"/>
<use href="#mg" x="352.2" y="984"/>
<use href="#mg" x="361.4" y="984"/>
<use href="#mg" x="370.6" y="984"/>
<use href="#mg" x="379.8" y="984"/>
<use href="#mg" x="389" y="984.1"/>
<use href="#mg" x="398.2" y="984.1"/>
<use href="#mg" x="407.3" y="984.1"/>
<use href="#mg" x="416.5" y="984.2"/>
<use href="#mg" x="425.7" y="984.2"/>
<use href="#mg" x="434.9" y="984.3"/>
<use href="#mg" x="444.1" y="984.4"/>
<use href="#mg" x="453.3" y="984.5"/>
<use href="#mg" x="462.5" y="984.6"/>
<use href="#mg" x="471.7" y="984.7"/>
<use href="#mg" x="480.9" y="984.8"/>
<use href="#mg" x="490.1" y="984.9"/>
<use href="#mg" x="499.3" y="985.1"/>
<use href="#mg" x="508.5" y="985.3"/>
<use href="#mg" x="517.7" y="985.5"/>
<use href="#mg" x="526.9" y="985.8"/>
<use href="#mg" x="536.1" y="986.1"/>
<use href="#mg" x="545.3" y="986.4"/>
<use href="#mg" x="554.4" y="986.8"/>
<use href="#mg" x="563.6" y="987.3"/>
<use href="#mg" x="572.8" y="987.8"/>
<use href="#mg" x="582" y="988.4"/>
<use href="#mg" x="591.2" y="989.1"/>
<use href="#mg" x="600.4" y="989.9"/>
<use href="#mg" x="609.6" y="990.8"/>
<use href="#mg" x="618.8" y="991.8"/>
<use href="#mg" x="628" y="993"/>
<use href="#mg" x="637.2" y="994.4"/>
<use href="#mg" x="646.4" y="996"/>
<use href="#mg" x="655.6" y="997.8"/>
<use href="#mg" x="664.8" y="999.9"/>
<use href="#mg" x="674" y="1002.4"/>
<use href="#mg" x="683.2" y="1005.1"/>
<use href="#mg" x="692.4" y="1008.3"/>
<use href="#mg" x="701.6" y="1012"/>
<use href="#mg" x="710.7" y="1016.2"/>
<use href="#mg" x="719.9" y="1020.9"/>
<use href="#mg" x="729.1" y="1026.4"/>
<use href="#mg" x="738.3" y="1032.6"/>
<use href="#mg" x="747.5" y="1039.7"/>
<use href="#mg" x="756.7" y="1047.6"/>
<use href="#mg" x="765.9" y="1056.6"/>
<use href="#mg" x="775.1" y="1066.7"/>
<use href="#mg" x="784.3" y="1077.9"/>
<use href="#mg" x="793.5" y="1090.2"/>
<use href="#mg" x="802.7" y="1103.7"/>
<use href="#mg" x="811.9" y="1118.1"/>
<use href="#mg" x="821.1" y="1133.5"/>
<use href="#mg" x="830.3" y="1149.6"/>
<use href="#mg" x="839.5" y="1166.1"/>
<use href="#mg" x="848.7" y="1182.7"/>
<use href="#mg" x="857.8" y="1199.2"/>
<use href="#mg" x="867" y="1215.2"/>
<use href="#mg" x="876.2" y="1230.5"/>
<use href="#mg" x="885.4" y="1244.9"/>
<use href="#mg" x="894.6" y="1258.2"/>
<use href="#mg" x="903.8" y="1270.4"/>
<use href="#mg" x="913" y="1281.5"/>
<use href="#mg" x="922.2" y="1291.5"/>
<use href="#mg" x="931.4" y="1300.3"/>
<use href="#mg" x="940.6" y="1308.2"/>
<use href="#mg" x="949.8" y="1315.2"/>
<use href="#mg" x="959" y="1321.3"/>
<use href="#mg" x="968.2" y="1326.7"/>
<use href="#mg" x="977.4" y="1331.4"/>
<use href="#mg" x="986.6" y="1335.5"/>
<use href="#mg" x="995.8" y="1339.1"/>
<use href="#mg" x="1005" y="1342.3"/>
<use href="#mg" x="1014.1" y="1345"/>
<use href="#mg" x="1023.3" y="1347.4"/>
<use href="#mg" x="1032.5" y="1349.4"/>
<use href="#mg" x="1041.7" y="1351.2"/>
<use href="#mg" x="1050.9" y="1352.8"/>
<use href="#mg" x="1060.1" y="1354.2"/>
<use href="#mg" x="1069.3" y="1355.3"/>
<use href="#mg" x="1078.5" y="1356.4"/>
<use href="#mg" x="1087.7" y="1357.2"/>
<use href="#mg" x="1096.9" y="1358"/>
<use href="#mg" x="1106.1" y="1358.7"/>
<use href="#mg" x="1115.3" y="1359.2"/>
<use href="#mg" x="1124.5" y="1359.7"/>
<use href="#mg" x="1133.7" y="1360.1"/>
<use href="#mg" x="1142.9" y="1360.5"/>
<use href="#mg" x="1152.1" y="1360.7"/>
<use href="#mg" x="1161.2" y="1361"/>
<use href="#mg" x="1170.4" y="1361.2"/>
<use href="#mg" x="1179.6" y="1361.3"/>
<use href="#mg" x="1188.8" y="1361.4"/>
<use href="#mg" x="1198" y="1361.5"/>
<use href="#mg" x="1207.2" y="1361.5"/>
<use href="#mg" x="1216.4" y="1361.5"/>
<use href="#mg" x="1225.6" y="1361.5"/>
<use href="#mg" x="1234.8" y="1361.4"/>
<use href="#mr" x="216.4" y="979.4"/>
<use href="#mr" x="227.1" y="979.6"/>
<use href="#mr" x="237.8" y="979.8"/>
<use href="#mr" x="248.6" y="980"/>
<use href="#mr" x="259.3" y="980.2"/>
<use href="#mr" x="270" y="980.7"/>
<use href="#mr" x="280.7" y="981.2"/>
<use href="#mr" x="291.4" y="981.7"/>
<use href="#mr" x="302.2" y="982.2"/>
<use href="#mr" x="312.9" y="982.7"/>
<use href="#mr" x="323.6" y="983.4"/>
<use href="#mr" x="334.3" y="984.4"/>
<use href="#mr" x="345" y="985.3"/>
<use href="#mr" x="355.8" y="986.3"/>
<use href="#mr" x="366.5" y="987.3"/>
<use href="#mr" x="377.2" y="988.3"/>
<use href="#mr" x="387.9" y="989"/>
<use href="#mr" x="398.6" y="989.3"/>
<use href="#mr" x="409.4" y="989.7"/>
<use href="#mr" x="420.1" y="990"/>
<use href="#mr" x="430.8" y="990.4"/>
<use href="#mr" x="441.5" y="990.7"/>
<use href="#mr" x="452.2" y="990.8"/>
<use href="#mr" x="463" y="990.9"/>
<use href="#mr" x="473.7" y="991"/>
<use href="#mr" x="484.4" y="991.2"/>
<use href="#mr" x="495.1" y="991.4"/>
<use href="#mr" x="505.8" y="991.6"/>
<use href="#mr" x="516.6" y="991.5"/>
<use href="#mr" x="527.3" y="991.5"/>
<use href="#mr" x="538" y="991.6"/>
<use href="#mr" x="548.7" y="991.8"/>
<use href="#mr" x="559.4" y="992"/>
<use href="#mr" x="570.2" y="992.4"/>
<use href="#mr" x="580.9" y="993"/>
<use href="#mr" x="591.6" y="993.9"/>
<use href="#mr" x="602.3" y="995"/>
<use href="#mr" x="613" y="996.3"/>
<use href="#mr" x="623.8" y="998"/>
<use href="#mr" x="634.5" y="1000"/>
<use href="#mr" x="645.2" y="1002.6"/>
<use href="#mr" x="655.9" y="1005.7"/>
<use href="#mr" x="666.6" y="1009.4"/>
<use href="#mr" x="677.4" y="1013.6"/>
<use href="#mr" x="688.1" y="1018.5"/>
<use href="#mr" x="698.8" y="1024.3"/>
<use href="#mr" x="709.5" y="1031.1"/>
<use href="#mr" x="720.2" y="1039"/>
<use href="#mr" x="731" y="1047.5"/>
<use href="#mr" x="741.7" y="1057.4"/>
<use href="#mr" x="752.4" y="1068.8"/>
<use href="#mr" x="763.1" y="1081.8"/>
<use href="#mr" x="773.8" y="1096.6"/>
<use href="#mr" x="784.6" y="1113.3"/>
<use href="#mr" x="795.3" y="1131.3"/>
<use href="#mr" x="806" y="1150.4"/>
<use href="#mr" x="816.7" y="1170.3"/>
<use href="#mr" x="827.4" y="1190.2"/>
<use href="#mr" x="838.2" y="1209.6"/>
<use href="#mr" x="848.9" y="1228"/>
<use href="#mr" x="859.6" y="1245.2"/>
<use href="#mr" x="870.3" y="1260.9"/>
<use href="#mr" x="881" y="1275"/>
<use href="#mr" x="891.8" y="1287.5"/>
<use href="#mr" x="902.5" y="1298.4"/>
<use href="#mr" x="913.2" y="1307.9"/>
<use href="#mr" x="923.9" y="1316.1"/>
<use href="#mr" x="934.6" y="1323.1"/>
<use href="#mr" x="945.4" y="1329.1"/>
<use href="#mr" x="956.1" y="1334.3"/>
<use href="#mr" x="966.8" y="1338.7"/>
<use href="#mr" x="977.5" y="1342.4"/>
<use href="#mr" x="988.2" y="1345.6"/>
<use href="#mr" x="999" y="1348.3"/>
<use href="#mr" x="1009.7" y="1350.5"/>
<use href="#mr" x="1020.4" y="1352.5"/>
<use href="#mr" x="1031.1" y="1354.1"/>
<use href="#mr" x="1041.8" y="1355.5"/>
<use href="#mr" x="1052.6" y="1356.7"/>
<use href="#mr" x="1063.3" y="1357.7"/>
<use href="#mr" x="1074" y="1358.5"/>
<use href="#mr" x="1084.7" y="1359.2"/>
<use href="#mr" x="1095.4" y="1359.8"/>
<use href="#mr" x="1106.2" y="1360.3"/>
<use href="#mr" x="1116.9" y="1360.7"/>
<use href="#mr" x="1127.6" y="1361.1"/>
<use href="#mr" x="1138.3" y="1361.4"/>
<use href="#mr" x="1149" y="1361.6"/>
<use href="#mr" x="1159.8" y="1361.8"/>
<use href="#mr" x="1170.5" y="1361.9"/>
<use href="#mr" x="1181.2" y="1362"/>
<use href="#mr" x="1191.9" y="1362.1"/>
<use href="#mr" x="1202.6" y="1362.1"/>
<use href="#mr" x="1213.4" y="1362.1"/>
<use href="#mr" x="1224.1" y="1362"/>
<use href="#mr" x="1234.8" y="1361.9"/>
<polyline points="166.3,979.7 171.2,979.7 176.1,979.7 180.9,979.7 185.8,979.7 190.7,979.7 195.6,979.7 200.5,979.7 205.4,979.7 210.2,979.7 215.1,979.7 220,979.7 224.9,979.7 229.8,979.7 234.6,979.7 239.5,979.7 244.4,979.7 249.3,979.7 254.2,979.7 259,979.7 263.9,979.7 268.8,979.7 273.7,979.7 278.6,979.7 283.5,979.7 288.3,979.7 293.2,979.8 298.1,979.8 303,979.8 307.9,979.8 312.7,979.8 317.6,979.8 322.5,979.8 327.4,979.8 332.3,979.8 337.1,979.8 342,979.8 346.9,979.9 351.8,979.9 356.7,979.9 361.6,979.9 366.4,979.9 371.3,979.9 376.2,979.9 381.1,980 386,980 390.8,980 395.7,980 400.6,980.1 405.5,980.1 410.4,980.1 415.2,980.2 420.1,980.2 425,980.3 429.9,980.3 434.8,980.3 439.7,980.4 444.5,980.5 449.4,980.5 454.3,980.6 459.2,980.7 464.1,980.7 468.9,980.8 473.8,980.9 478.7,981 483.6,981.1 488.5,981.2 493.4,981.3 498.2,981.5 503.1,981.6 508,981.8 512.9,981.9 517.8,982.1 522.6,982.3 527.5,982.5 532.4,982.7 537.3,983 542.2,983.2 547,983.5 551.9,983.8 556.8,984.1 561.7,984.5 566.6,984.8 571.5,985.2 576.3,985.7 581.2,986.1 586.1,986.6 591,987.2 595.9,987.8 600.7,988.4 605.6,989.1 610.5,989.8 615.4,990.6 620.3,991.5 625.1,992.4 630,993.4 634.9,994.5 639.8,995.7 644.7,996.9 649.6,998.2 654.4,999.7 659.3,1001.2 664.2,1002.9 669.1,1004.7 674,1006.7 678.8,1008.8 683.7,1011 688.6,1013.4 693.5,1016 698.4,1018.8 703.2,1021.8 708.1,1025 713,1028.5 717.9,1032.2 722.8,1036.1 727.7,1040.3 732.5,1044.9 737.4,1049.7 742.3,1054.8 747.2,1060.2 752.1,1066 756.9,1072.1 761.8,1078.5 766.7,1085.3 771.6,1092.4 776.5,1099.8 781.4,1107.5 786.2,1115.6 791.1,1123.8 796,1132.4 800.9,1141.1 805.8,1150 810.6,1159 815.5,1168 820.4,1177.1 825.3,1186.2 830.2,1195.2 835,1204 839.9,1212.7 844.8,1221.2 849.7,1229.4 854.6,1237.3 859.5,1245 864.3,1252.4 869.2,1259.4 874.1,1266.1 879,1272.4 883.9,1278.4 888.7,1284.1 893.6,1289.5 898.5,1294.5 903.4,1299.2 908.3,1303.7 913.1,1307.8 918,1311.7 922.9,1315.3 927.8,1318.7 932.7,1321.9 937.6,1324.8 942.4,1327.6 947.3,1330.1 952.2,1332.5 957.1,1334.7 962,1336.8 966.8,1338.7 971.7,1340.5 976.6,1342.1 981.5,1343.6 986.4,1345.1 991.3,1346.4 996.1,1347.6 1001,1348.7 1005.9,1349.8 1010.8,1350.8 1015.7,1351.7 1020.5,1352.5 1025.4,1353.3 1030.3,1354 1035.2,1354.7 1040.1,1355.3 1044.9,1355.9 1049.8,1356.4 1054.7,1356.9 1059.6,1357.4 1064.5,1357.8 1069.4,1358.2 1074.2,1358.5 1079.1,1358.9 1084,1359.2 1088.9,1359.5 1093.8,1359.7 1098.6,1360 1103.5,1360.2 1108.4,1360.4 1113.3,1360.6 1118.2,1360.8 1123,1360.9 1127.9,1361.1 1132.8,1361.2 1137.7,1361.3 1142.6,1361.4 1147.5,1361.5 1152.3,1361.6 1157.2,1361.7 1162.1,1361.8 1167,1361.9 1171.9,1361.9 1176.7,1362 1181.6,1362 1186.5,1362 1191.4,1362 1196.3,1362.1 1201.1,1362.1 1206,1362.1 1210.9,1362.1 1215.8,1362.1 1220.7,1362 1225.6,1362 1230.4,1362 1235.3,1361.9 1240.2,1361.9" fill="none" stroke="#ff0000" stroke-width="5.7" stroke-linejoin="round"/>
<polyline points="166.3,983.8 171.2,983.8 176,983.8 180.9,983.8 185.7,983.8 190.6,983.8 195.4,983.8 200.3,983.8 205.2,983.8 210,983.8 214.9,983.8 219.7,983.8 224.6,983.8 229.4,983.8 234.3,983.8 239.2,983.8 244,983.9 248.9,983.9 253.7,983.9 258.6,983.9 263.4,983.9 268.3,983.9 273.1,983.9 278,983.9 282.9,983.9 287.7,983.9 292.6,983.9 297.4,983.9 302.3,983.9 307.1,983.9 312,983.9 316.9,983.9 321.7,983.9 326.6,983.9 331.4,983.9 336.3,983.9 341.1,983.9 346,983.9 350.9,984 355.7,984 360.6,984 365.4,984 370.3,984 375.1,984 380,984 384.9,984 389.7,984.1 394.6,984.1 399.4,984.1 404.3,984.1 409.1,984.1 414,984.2 418.9,984.2 423.7,984.2 428.6,984.3 433.4,984.3 438.3,984.3 443.1,984.4 448,984.4 452.9,984.5 457.7,984.5 462.6,984.6 467.4,984.6 472.3,984.7 477.1,984.7 482,984.8 486.9,984.9 491.7,985 496.6,985.1 501.4,985.2 506.3,985.3 511.1,985.4 516,985.5 520.8,985.6 525.7,985.7 530.6,985.9 535.4,986.1 540.3,986.2 545.1,986.4 550,986.6 554.8,986.8 559.7,987.1 564.6,987.3 569.4,987.6 574.3,987.9 579.1,988.2 584,988.5 588.8,988.9 593.7,989.3 598.6,989.7 603.4,990.1 608.3,990.6 613.1,991.2 618,991.7 622.8,992.3 627.7,993 632.6,993.7 637.4,994.4 642.3,995.3 647.1,996.1 652,997.1 656.8,998.1 661.7,999.2 666.6,1000.4 671.4,1001.7 676.3,1003 681.1,1004.5 686,1006.1 690.8,1007.8 695.7,1009.6 700.5,1011.5 705.4,1013.7 710.3,1015.9 715.1,1018.3 720,1021 724.8,1023.8 729.7,1026.7 734.5,1030 739.4,1033.4 744.3,1037.1 749.1,1041 754,1045.2 758.8,1049.6 763.7,1054.4 768.5,1059.4 773.4,1064.8 778.3,1070.4 783.1,1076.4 788,1082.7 792.8,1089.3 797.7,1096.2 802.5,1103.4 807.4,1111 812.3,1118.8 817.1,1126.8 822,1135.1 826.8,1143.5 831.7,1152.1 836.5,1160.8 841.4,1169.6 846.3,1178.4 851.1,1187.2 856,1195.9 860.8,1204.5 865.7,1212.9 870.5,1221.1 875.4,1229.1 880.3,1236.9 885.1,1244.4 890,1251.6 894.8,1258.5 899.7,1265.1 904.5,1271.3 909.4,1277.3 914.3,1282.9 919.1,1288.2 924,1293.2 928.8,1297.9 933.7,1302.4 938.5,1306.5 943.4,1310.4 948.2,1314.1 953.1,1317.5 958,1320.7 962.8,1323.6 967.7,1326.4 972.5,1329 977.4,1331.4 982.2,1333.7 987.1,1335.8 992,1337.7 996.8,1339.5 1001.7,1341.2 1006.5,1342.8 1011.4,1344.2 1016.2,1345.6 1021.1,1346.8 1026,1348 1030.8,1349.1 1035.7,1350.1 1040.5,1351 1045.4,1351.9 1050.2,1352.7 1055.1,1353.4 1060,1354.1 1064.8,1354.8 1069.7,1355.4 1074.5,1355.9 1079.4,1356.4 1084.2,1356.9 1089.1,1357.4 1094,1357.8 1098.8,1358.1 1103.7,1358.5 1108.5,1358.8 1113.4,1359.1 1118.2,1359.4 1123.1,1359.6 1127.9,1359.9 1132.8,1360.1 1137.7,1360.3 1142.5,1360.4 1147.4,1360.6 1152.2,1360.8 1157.1,1360.9 1161.9,1361 1166.8,1361.1 1171.7,1361.2 1176.5,1361.3 1181.4,1361.4 1186.2,1361.4 1191.1,1361.5 1195.9,1361.5 1200.8,1361.5 1205.7,1361.5 1210.5,1361.5 1215.4,1361.5 1220.2,1361.5 1225.1,1361.5 1229.9,1361.5 1234.8,1361.4" fill="none" stroke="#00cc00" stroke-width="5.7" stroke-linejoin="round"/>
<text transform="translate(89.3,568.4) scale(0.933,1)" font-size="30">10</text>
<text transform="translate(119.3,549.4) scale(0.940,1)" font-size="20.8">6</text>
<text transform="translate(89.3,658.1) scale(0.933,1)" font-size="30">10</text>
<text transform="translate(119.3,639.1) scale(0.940,1)" font-size="20.8">5</text>
<text transform="translate(89.3,747.9) scale(0.933,1)" font-size="30">10</text>
<text transform="translate(119.3,728.9) scale(0.940,1)" font-size="20.8">4</text>
<text transform="translate(89.3,837.6) scale(0.933,1)" font-size="30">10</text>
<text transform="translate(119.3,818.6) scale(0.940,1)" font-size="20.8">3</text>
<text transform="translate(134.3,1373.1) scale(0.933,1)" font-size="30" text-anchor="end">0</text>
<text transform="translate(134.3,1285.3) scale(0.933,1)" font-size="30" text-anchor="end">20</text>
<text transform="translate(134.3,1197.6) scale(0.933,1)" font-size="30" text-anchor="end">40</text>
<text transform="translate(134.3,1109.8) scale(0.933,1)" font-size="30" text-anchor="end">60</text>
<text transform="translate(134.3,1022.1) scale(0.933,1)" font-size="30" text-anchor="end">80</text>
<text transform="translate(199.2,1436) scale(0.933,1)" font-size="30">10</text>
<text transform="translate(231.4,1417.4) scale(0.940,1)" font-size="20.8">-2</text>
<text transform="translate(343.6,1436) scale(0.933,1)" font-size="30">10</text>
<text transform="translate(375.8,1417.4) scale(0.940,1)" font-size="20.8">-1</text>
<text transform="translate(491.3,1436) scale(0.933,1)" font-size="30">10</text>
<text transform="translate(523.4,1417.4) scale(0.940,1)" font-size="20.8">0</text>
<text transform="translate(635.7,1436) scale(0.933,1)" font-size="30">10</text>
<text transform="translate(667.8,1417.4) scale(0.940,1)" font-size="20.8">1</text>
<text transform="translate(780.1,1436) scale(0.933,1)" font-size="30">10</text>
<text transform="translate(812.2,1417.4) scale(0.940,1)" font-size="20.8">2</text>
<text transform="translate(924.5,1436) scale(0.933,1)" font-size="30">10</text>
<text transform="translate(956.6,1417.4) scale(0.940,1)" font-size="20.8">3</text>
<text transform="translate(1068.9,1436) scale(0.933,1)" font-size="30">10</text>
<text transform="translate(1101,1417.4) scale(0.940,1)" font-size="20.8">4</text>
<text transform="translate(1213.3,1436) scale(0.933,1)" font-size="30">10</text>
<text transform="translate(1245.4,1417.4) scale(0.940,1)" font-size="20.8">5</text>
<text transform="translate(703.9,1475) scale(1.050,1)" font-size="27.6" text-anchor="middle">Frequency / Hz</text>
<text transform="translate(35,708.6) rotate(-90) scale(0.920,1)" font-size="31" text-anchor="middle">Z / Ω</text>
<text transform="translate(25.6,1155) rotate(-90) scale(0.940,1)" font-size="31.5" text-anchor="middle">-Θ / °</text>
<rect x="39" y="827.5" width="572.6" height="111.4" fill="#fff" stroke="#000" stroke-width="2.4"/>
<path d="M66.5,843 H86.9 L66.5,861 H86.9 Z" fill="none" stroke="#7090ff" stroke-width="2.1" stroke-linejoin="bevel"/>
<path d="M66.2,884.7 H87.2 M76.7,874.6 V894.8" fill="none" stroke="#19cc19" stroke-width="1.7"/>
<circle cx="76.8" cy="917.3" r="9.8" fill="none" stroke="#ff1a1a" stroke-width="1.6"/><circle cx="76.8" cy="917.3" r="1.1" fill="#ff1a1a"/>
<text x="115.2" y="860.4" font-size="28.8" textLength="116.8" lengthAdjust="spacingAndGlyphs">DI Water</text>
<text x="114.8" y="893" font-size="28.8" textLength="160.2" lengthAdjust="spacingAndGlyphs">25 mM NaCl</text>
<text x="114.3" y="925.5" font-size="28.8" textLength="358.3" lengthAdjust="spacingAndGlyphs">10 mM MOPS, 25 mM NaCl</text>
<text x="306.6" y="860.4" font-size="28.8" textLength="32.4" lengthAdjust="spacingAndGlyphs">Fit</text>
<text x="353.8" y="893" font-size="28.8" textLength="43.4" lengthAdjust="spacingAndGlyphs">FIT</text>
<text x="560.7" y="925.5" font-size="28.8" textLength="43.8" lengthAdjust="spacingAndGlyphs">FIT</text>
<path d="M241.8,851.2 H294.5" stroke="#0030ff" stroke-width="6"/>
<path d="M288.7,884.2 H341.4" stroke="#00cc00" stroke-width="6"/>
<path d="M495.1,917.5 H549.2" stroke="#ff0000" stroke-width="6"/>
</svg>
</body></html>
